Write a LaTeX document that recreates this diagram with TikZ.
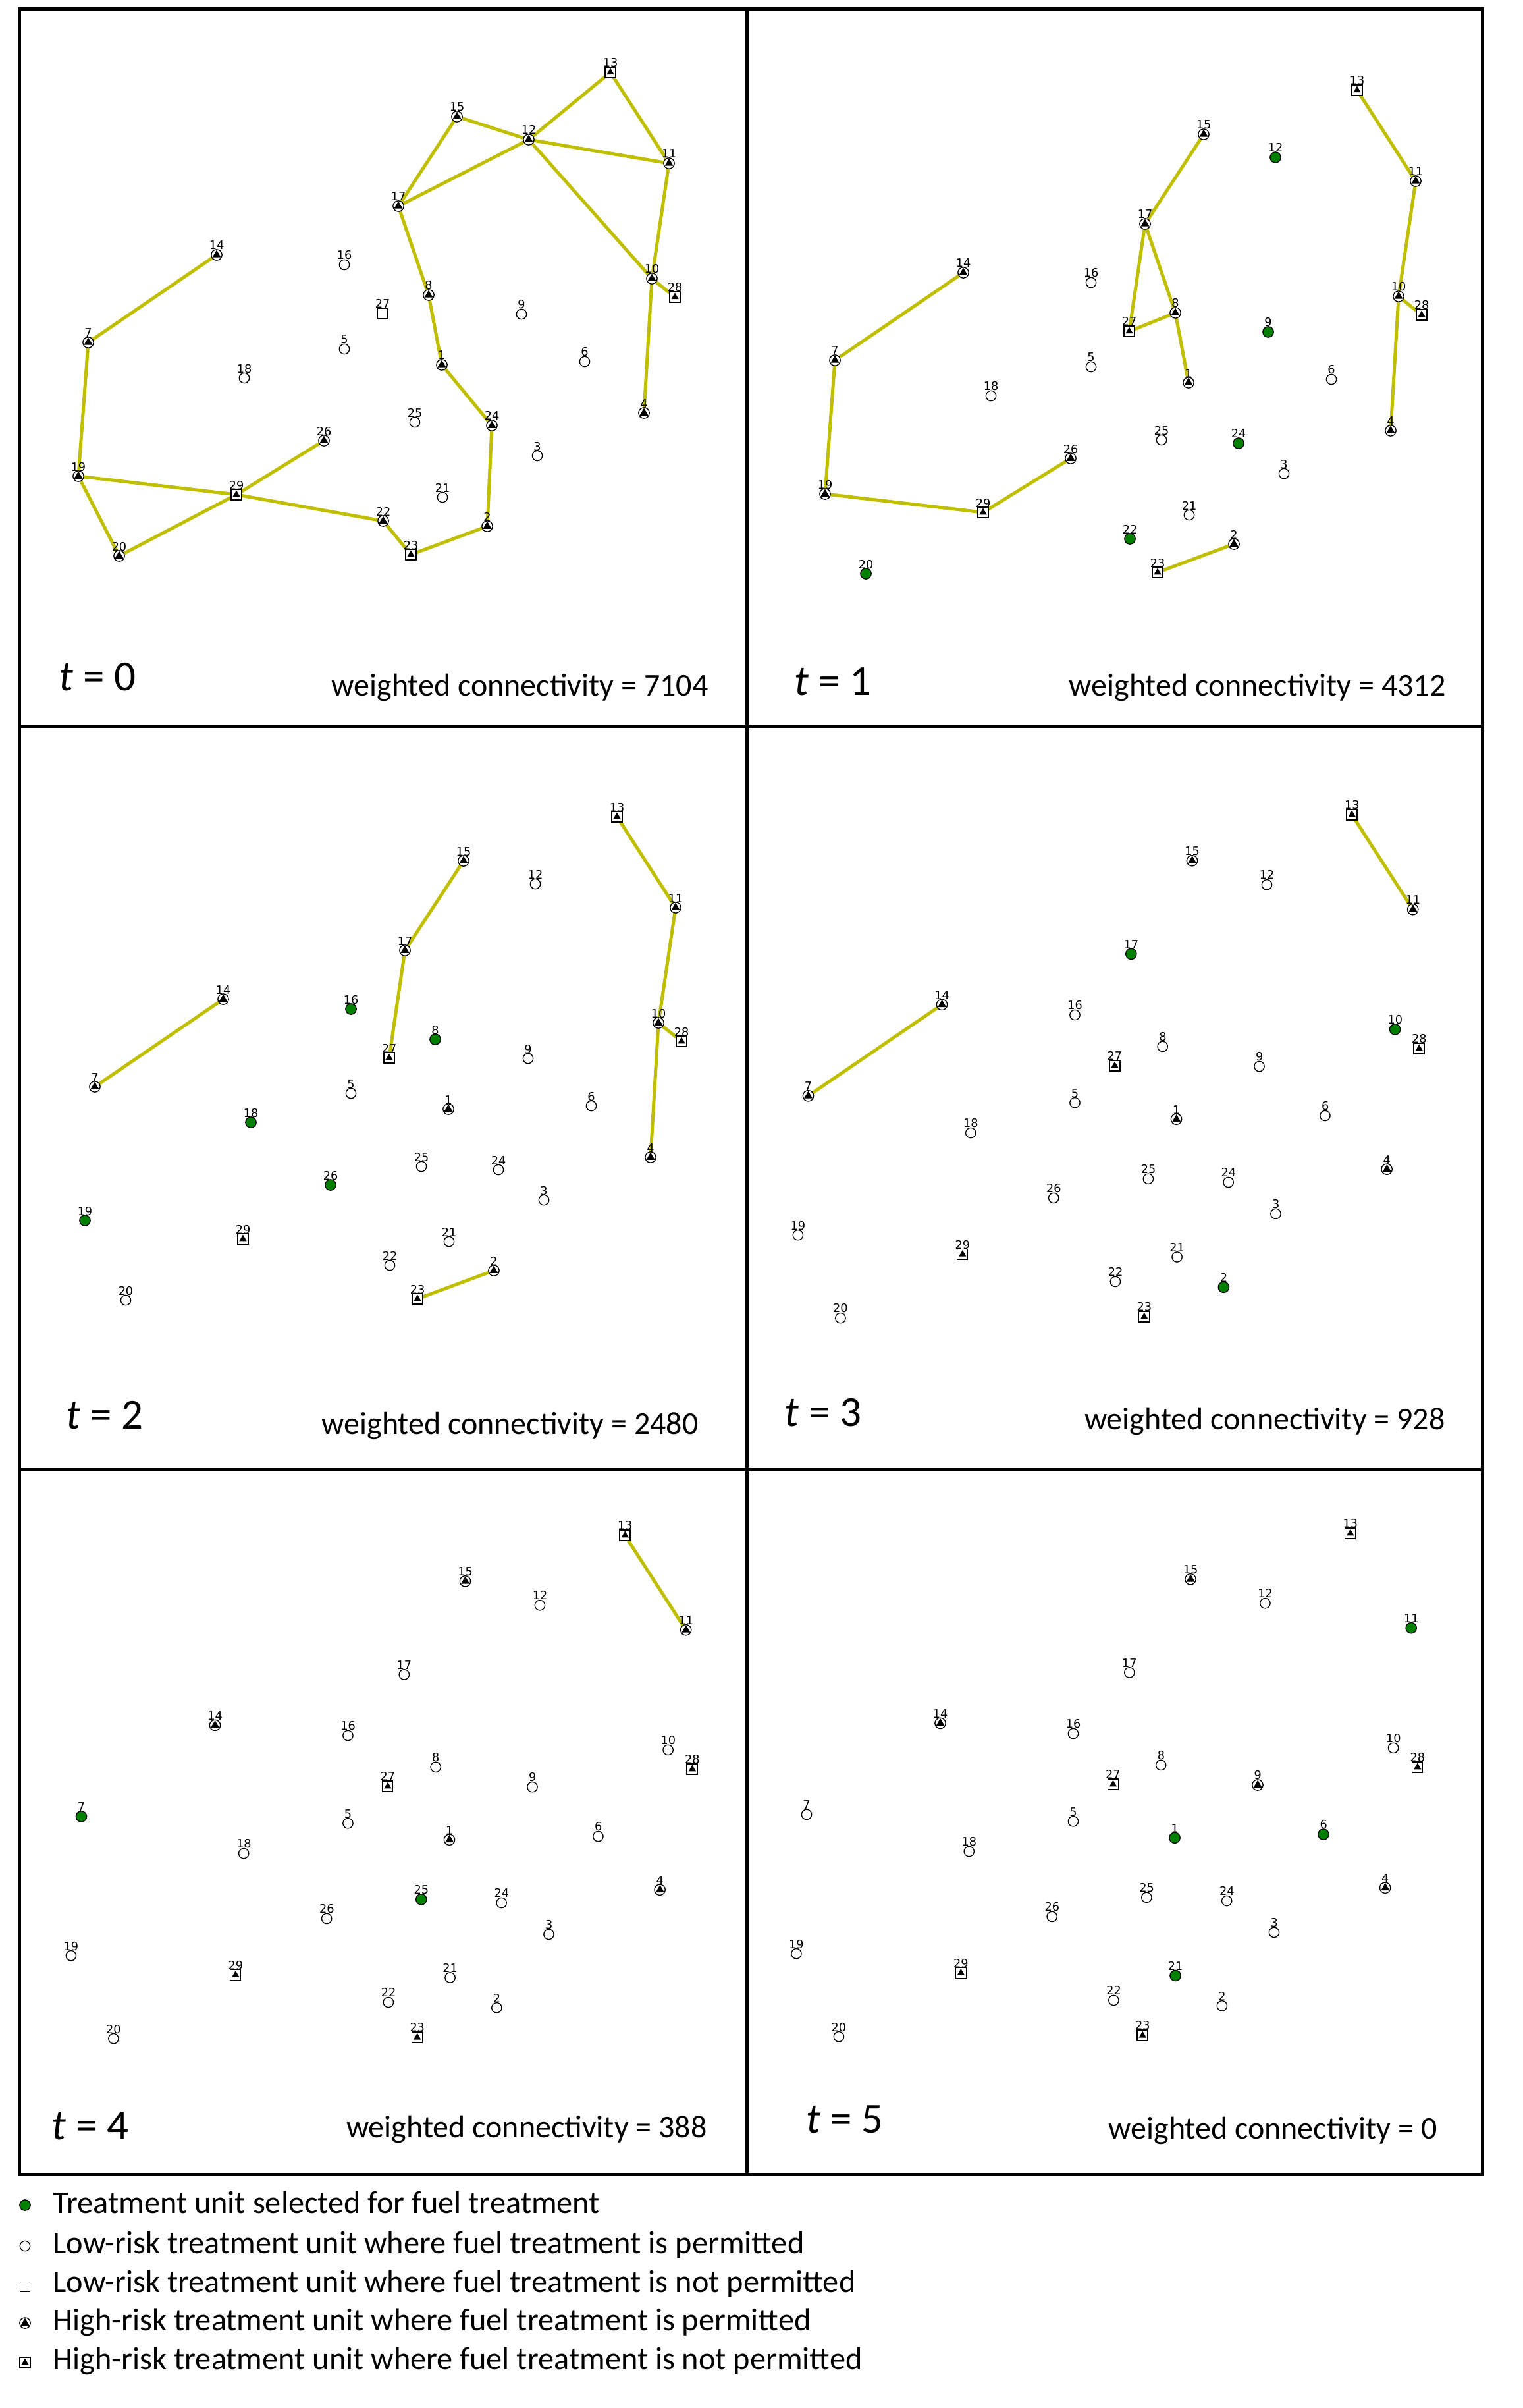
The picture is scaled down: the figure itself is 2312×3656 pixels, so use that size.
\documentclass[tikz,border=0pt]{standalone}
\usepackage{fontspec}
\setmainfont{Carlito}
\newfontfamily\numfont{DejaVu Sans}
\usetikzlibrary{shapes.geometric,backgrounds}
\definecolor{selgreen}{RGB}{0,128,0}
\definecolor{edgey}{RGB}{191,191,0}
\tikzset{
  mk/.style={inner sep=0pt, outer sep=0pt, line width=0.4pt, draw=black},
  lp/.style={mk, circle, fill=white, minimum size=4.6pt},
  lnp/.style={mk, rectangle, fill=white, minimum size=4.6pt},
  hp/.style={mk, circle, fill=white, minimum size=4.9pt},
  hnp/.style={mk, rectangle, fill=white, minimum size=4.8pt},
  sel/.style={mk, circle, fill=selgreen, minimum size=4.9pt},
  trihp/.style={regular polygon, regular polygon sides=3, fill=black, inner sep=0pt, outer sep=0pt, minimum size=4.5pt},
  trihnp/.style={regular polygon, regular polygon sides=3, fill=black, inner sep=0pt, outer sep=0pt, minimum size=3.9pt},
  numlab/.style={font=\numfont\fontsize{5.3}{6}\selectfont, inner sep=0pt, anchor=base},
  edge/.style={draw=edgey, line width=1.5pt},
  frame/.style={draw=black, line width=1.5pt},
  tlab/.style={font=\fontsize{19.5}{22}\selectfont, inner sep=0pt, anchor=base west},
  wlab/.style={font=\fontsize{14.4}{16}\selectfont, inner sep=0pt, anchor=base east},
  legtext/.style={font=\fontsize{14.5}{16}\selectfont, inner sep=0pt, anchor=base west},
}
\def\hastrihp{}\def\hastrihnp{}
\newcommand\setpos[3]{\expandafter\def\csname ux#1\endcsname{#2}\expandafter\def\csname uy#1\endcsname{#3}}
\newcommand\Uaux[3]{%
  \node[#1] (#2-#3) at (\csname ux#3\endcsname,\csname uy#3\endcsname) {};
  \ifcsname hastri#1\endcsname
    \node[tri#1] (#2-#3-t) at (#2-#3.center) {};
  \fi
  \node[numlab] (#2-#3-l) at ([yshift=2.4pt]#2-#3.center) {#3};
}
\newcommand\U[3]{\edef\utmp{#3}\expandafter\Uaux\expandafter{\utmp}{#1}{#2}}
\setpos{1}{671}{554}
\setpos{2}{740}{799}
\setpos{3}{816}{692}
\setpos{4}{978}{627}
\setpos{5}{523}{530}
\setpos{6}{888}{549}
\setpos{7}{134}{520}
\setpos{8}{651}{448}
\setpos{9}{792}{477}
\setpos{10}{990}{423}
\setpos{11}{1016}{248}
\setpos{12}{803}{212}
\setpos{13}{927}{110}
\setpos{14}{329}{387}
\setpos{15}{694}{177}
\setpos{16}{523}{402}
\setpos{17}{605}{313}
\setpos{18}{371}{574}
\setpos{19}{119}{723}
\setpos{20}{181}{844}
\setpos{21}{672}{755}
\setpos{22}{582}{791}
\setpos{23}{624}{842}
\setpos{24}{747}{646}
\setpos{25}{630}{641}
\setpos{26}{492}{669}
\setpos{27}{581}{476}
\setpos{28}{1025}{451}
\setpos{29}{359}{751}
\begin{document}
\begin{tikzpicture}[x=0.3pt, y=-0.3pt]
\useasboundingbox (0,0) rectangle (2312,3656);
% frames
\draw[frame] (29,14) rectangle (2251,3301);
\draw[frame] (1134,14) -- (1134,3301);
\draw[frame] (29,1102) -- (2251,1102);
\draw[frame] (29,2231) -- (2251,2231);
% panel t=0
\begin{scope}
\foreach \i/\ty in {1/hp,2/hp,3/lp,4/hp,5/lp,6/lp,7/hp,8/hp,9/lp,10/hp,11/hp,12/hp,13/hnp,14/hp,15/hp,16/lp,17/hp,18/lp,19/hp,20/hp,21/lp,22/hp,23/hnp,24/hp,25/lp,26/hp,27/lnp,28/hnp,29/hnp} {\U{a}{\i}{\ty}}
\end{scope}
\begin{pgfonlayer}{background}
\foreach \p/\q in {13/12,13/11,15/12,15/17,12/17,12/11,12/10,11/10,10/28,10/4,17/8,8/1,1/24,24/2,2/23,23/22,22/29,29/19,29/20,29/26,19/20,19/7,7/14} {\draw[edge] (a-\p) -- (a-\q);}
\end{pgfonlayer}
\node[tlab] (ta) at (89,1048) {{\itshape t} = 0};
\node[wlab] (wa) at (1076,1056) {weighted connectivity = 7104};
% panel t=1
\begin{scope}[shift={(1134,27)}]
\foreach \i/\ty in {1/hp,2/hp,3/lp,4/hp,5/lp,6/lp,7/hp,8/hp,9/sel,10/hp,11/hp,12/sel,13/hnp,14/hp,15/hp,16/lp,17/hp,18/lp,19/hp,20/sel,21/lp,22/sel,23/hnp,24/sel,25/lp,26/hp,27/hnp,28/hnp,29/hnp} {\U{b}{\i}{\ty}}
\end{scope}
\begin{pgfonlayer}{background}
\foreach \p/\q in {13/11,11/10,10/28,10/4,15/17,17/27,17/8,27/8,8/1,14/7,7/19,19/29,29/26,23/2} {\draw[edge] (b-\p) -- (b-\q);}
\end{pgfonlayer}
\node[tlab] (tb) at (1206,1055) {{\itshape t} = 1};
\node[wlab] (wb) at (2196,1056) {weighted connectivity = 4312};
% panel t=2
\begin{scope}[shift={(10,1130)}]
\foreach \i/\ty in {1/hp,2/hp,3/lp,4/hp,5/lp,6/lp,7/hp,8/sel,9/lp,10/hp,11/hp,12/lp,13/hnp,14/hp,15/hp,16/sel,17/hp,18/sel,19/sel,20/lp,21/lp,22/lp,23/hnp,24/lp,25/lp,26/sel,27/hnp,28/hnp,29/hnp} {\U{c}{\i}{\ty}}
\end{scope}
\begin{pgfonlayer}{background}
\foreach \p/\q in {13/11,11/10,10/28,10/4,15/17,17/27,14/7,23/2} {\draw[edge] (c-\p) -- (c-\q);}
\end{pgfonlayer}
\node[tlab] (tc) at (100,2169) {{\itshape t} = 2};
\node[wlab] (wc) at (1061,2177) {weighted connectivity = 2480};
% panel t=3
\begin{scope}[shift={(1088,1122.5)}, scale=1.041]
\foreach \i/\ty in {1/hp,2/sel,3/lp,4/hp,5/lp,6/lp,7/hp,8/lp,9/lp,10/sel,11/hp,12/lp,13/hnp,14/hp,15/hp,16/lp,17/sel,18/lp,19/lp,20/lp,21/lp,22/lp,23/hnp,24/lp,25/lp,26/lp,27/hnp,28/hnp,29/hnp} {\U{d}{\i}{\ty}}
\end{scope}
\begin{pgfonlayer}{background}
\foreach \p/\q in {13/11,14/7} {\draw[edge] (d-\p) -- (d-\q);}
\end{pgfonlayer}
\node[tlab] (td) at (1191,2165) {{\itshape t} = 3};
\node[wlab] (wd) at (2195,2170) {weighted connectivity = 928};
% panel t=4
\begin{scope}[shift={(-16,2216.5)}, scale=1.041]
\foreach \i/\ty in {1/hp,2/lp,3/lp,4/hp,5/lp,6/lp,7/sel,8/lp,9/lp,10/lp,11/hp,12/lp,13/hnp,14/hp,15/hp,16/lp,17/lp,18/lp,19/lp,20/lp,21/lp,22/lp,23/hnp,24/lp,25/sel,26/lp,27/hnp,28/hnp,29/hnp} {\U{e}{\i}{\ty}}
\end{scope}
\begin{pgfonlayer}{background}
\draw[edge] (e-13) -- (e-11);
\end{pgfonlayer}
\node[tlab] (te) at (78,3248) {{\itshape t} = 4};
\node[wlab] (we) at (1074,3245) {weighted connectivity = 388};
% panel t=5
\begin{scope}[shift={(1085.5,2213.5)}, scale=1.041]
\foreach \i/\ty in {1/sel,2/lp,3/lp,4/hp,5/lp,6/sel,7/lp,8/lp,9/hp,10/lp,11/sel,12/lp,13/hnp,14/hp,15/hp,16/lp,17/lp,18/lp,19/lp,20/lp,21/sel,22/lp,23/hnp,24/lp,25/lp,26/lp,27/hnp,28/hnp,29/hnp} {\U{f}{\i}{\ty}}
\end{scope}
\node[tlab] (tf) at (1224,3238) {{\itshape t} = 5};
\node[wlab] (wf) at (2183,3247) {weighted connectivity = 0};
% legend
\node[sel] (leg1) at (38,3348) {};
\node[legtext] (leg1t) at (80,3360) {Treatment unit selected for fuel treatment};
\node[lp] (leg2) at (38,3410) {};
\node[legtext] (leg2t) at (80,3421) {Low-risk treatment unit where fuel treatment is permitted};
\node[lnp] (leg3) at (38,3472) {};
\node[legtext] (leg3t) at (80,3480) {Low-risk treatment unit where fuel treatment is not permitted};
\node[hp] (leg4) at (38,3527) {};
\node[trihp] (leg4-t) at (leg4.center) {};
\node[legtext] (leg4t) at (80,3538) {High-risk treatment unit where fuel treatment is permitted};
\node[hnp] (leg5) at (38,3587) {};
\node[trihnp] (leg5-t) at (leg5.center) {};
\node[legtext] (leg5t) at (80,3597) {High-risk treatment unit where fuel treatment is not permitted};
\end{tikzpicture}
\end{document}
